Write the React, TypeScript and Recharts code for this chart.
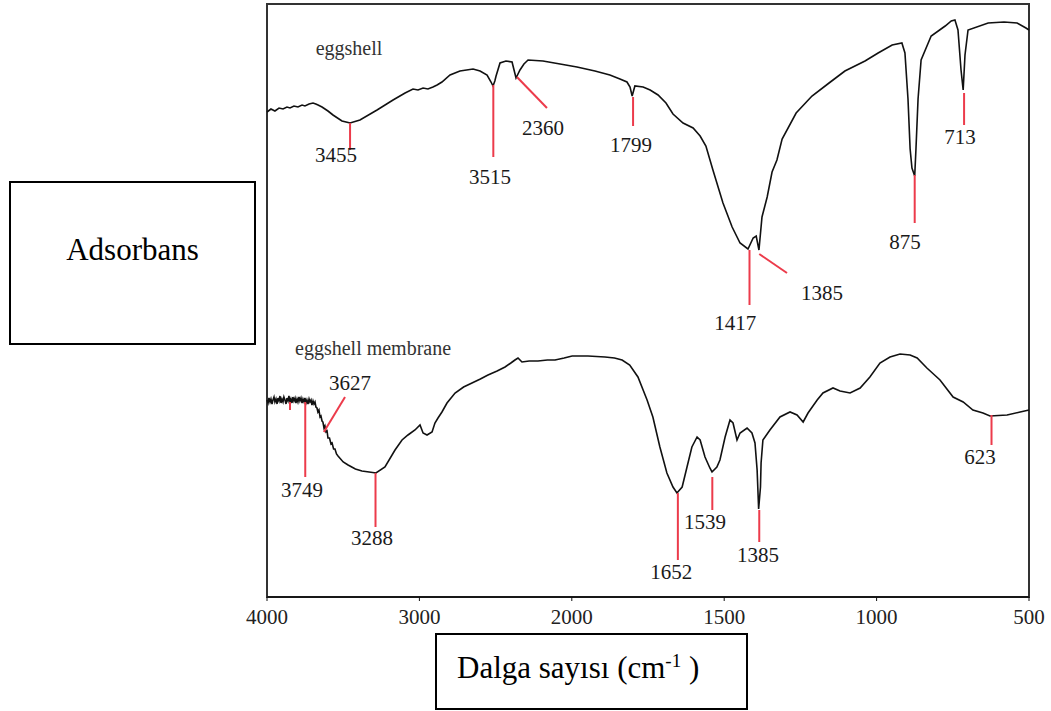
import React from 'react';
import { ComposedChart, Line, Scatter, XAxis, YAxis, ReferenceLine, ReferenceArea } from 'recharts';

const SERIF = "'Liberation Serif', 'Times New Roman', serif";

// FTIR spectra, [wavenumber cm-1, signal a.u.]
const eggshell: [number, number][] = [
  [4000, 485], [3974, 488], [3948, 486], [3921, 489], [3895, 488], [3869, 490], [3849, 489], [3823, 491],
  [3797, 490], [3770, 492], [3751, 491], [3724, 493], [3698, 494], [3680, 493], [3665, 492], [3639, 490],
  [3600, 486], [3567, 482], [3508, 476], [3455, 474], [3390, 477], [3278, 487], [3173, 497], [3094, 504],
  [3042, 508], [3009, 507], [2976, 509], [2944, 508], [2911, 510], [2884, 512], [2852, 515], [2799, 522],
  [2734, 526], [2648, 528], [2602, 526], [2556, 522], [2530, 515], [2517, 511], [2505, 516], [2497, 521],
  [2471, 534], [2432, 536], [2392, 535], [2379, 527], [2366, 519], [2340, 527], [2314, 533], [2287, 537],
  [2189, 536], [2077, 533], [1983, 530], [1924, 526], [1875, 522], [1842, 518], [1819, 515], [1809, 510],
  [1802, 501], [1793, 511], [1766, 510], [1743, 507], [1717, 502], [1691, 494], [1668, 483], [1635, 474],
  [1602, 469], [1579, 461], [1560, 451], [1537, 427], [1504, 394], [1474, 370], [1448, 354], [1422, 348],
  [1405, 359], [1395, 361], [1386, 347], [1376, 380], [1359, 400], [1343, 425], [1327, 437], [1310, 458],
  [1264, 484], [1212, 501], [1156, 514], [1104, 526], [1038, 536], [995, 544], [949, 552], [917, 554],
  [907, 544], [897, 498], [890, 448], [884, 429], [875, 421], [871, 447], [864, 498], [854, 537],
  [821, 561], [775, 571], [755, 576], [743, 577], [733, 567], [723, 527], [716, 507], [710, 542],
  [700, 567], [634, 574], [582, 575], [539, 574], [510, 569], [500, 567],
];

const membrane: [number, number][] = [
  [4000, 197], [3993, 194], [3987, 199], [3980, 195], [3974, 198], [3967, 193], [3961, 197], [3954, 200],
  [3948, 195], [3941, 198], [3934, 193], [3928, 199], [3921, 196], [3915, 201], [3908, 194], [3902, 198],
  [3895, 195], [3889, 200], [3882, 197], [3875, 193], [3869, 199], [3862, 196], [3856, 201], [3849, 195],
  [3843, 198], [3836, 194], [3830, 200], [3823, 196], [3816, 199], [3810, 194], [3803, 198], [3797, 195],
  [3790, 200], [3784, 196], [3777, 199], [3770, 194], [3764, 198], [3757, 195], [3751, 199], [3744, 194],
  [3738, 197], [3731, 193], [3724, 198], [3718, 195], [3711, 197], [3705, 192], [3698, 196], [3692, 193],
  [3685, 195], [3679, 190], [3672, 189], [3666, 185], [3659, 187], [3652, 180], [3646, 181], [3639, 176],
  [3633, 175], [3626, 169], [3620, 171], [3613, 165], [3606, 166], [3600, 159], [3590, 159], [3580, 153],
  [3573, 154], [3563, 148], [3554, 148], [3544, 143], [3534, 141], [3500, 135], [3468, 132], [3420, 128],
  [3377, 126], [3330, 125], [3285, 124], [3226, 130], [3160, 147], [3114, 157], [3075, 162], [3029, 167],
  [2996, 172], [2976, 164], [2950, 162], [2917, 165], [2898, 174], [2878, 179], [2852, 185], [2819, 194],
  [2766, 204], [2710, 210], [2655, 214], [2600, 218], [2550, 222], [2490, 226], [2438, 230], [2400, 234],
  [2373, 237], [2353, 239], [2327, 235], [2280, 236], [2222, 236], [2160, 237], [2110, 237], [2050, 239],
  [1999, 241], [1947, 241], [1891, 240], [1860, 239], [1835, 237], [1810, 232], [1783, 220], [1753, 197],
  [1734, 180], [1711, 150], [1688, 124], [1668, 110], [1655, 104], [1638, 110], [1622, 130], [1606, 150],
  [1589, 160], [1579, 157], [1563, 140], [1547, 129], [1540, 125], [1524, 130], [1514, 137], [1497, 160],
  [1481, 177], [1471, 174], [1458, 157], [1448, 164], [1425, 169], [1409, 164], [1399, 154], [1392, 127],
  [1387, 88], [1381, 110], [1379, 134], [1373, 157], [1350, 167], [1317, 180], [1284, 185], [1261, 182],
  [1241, 175], [1225, 184], [1195, 197], [1176, 204], [1143, 209], [1120, 206], [1087, 204], [1054, 209],
  [1022, 220], [989, 234], [956, 240], [923, 243], [890, 242], [867, 239], [835, 229], [792, 217],
  [749, 200], [716, 195], [684, 187], [651, 184], [628, 181], [572, 182], [529, 185], [500, 187],
];

// assigned bands
const eggshellPeaks = [3455, 2515, 2360, 1799, 1417, 1385, 875, 713];
const eggshellPeakText = ['3455', '3515', '2360', '1799', '1417', '1385', '875', '713'];
const membranePeaks = [3749, 3627, 3288, 1652, 1539, 1385, 623];
const membranePeakText = ['3749', '3627', '3288', '1652', '1539', '1385', '623'];

const wavenumberTicks = [4000, 3000, 2000, 1500, 1000, 500];

// callout geometry per band: tick from/to signal, optional slanted end, label centre
type Callout = { tick: [number, number]; end?: number; at: [number, number] };

const eggshellCallouts: Callout[] = [
  { tick: [474, 447], at: [3547, 442] },
  { tick: [512, 440], at: [2537, 420] },
  { tick: [520, 489], end: 2163, at: [2189, 469] },
  { tick: [500, 471], at: [1806, 452] },
  { tick: [347, 292], at: [1464, 274] },
  { tick: [343, 324], end: 1294, at: [1179, 304] },
  { tick: [422, 374], at: [907, 355] },
  { tick: [504, 472], at: [726, 460] },
];

const membraneCallouts: Callout[] = [
  { tick: [195, 120], at: [3770, 107] },
  { tick: [165, 200], end: 3488, at: [3455, 214] },
  { tick: [124, 70], at: [3311, 59] },
  { tick: [104, 37], at: [1674, 25] },
  { tick: [120, 87], at: [1563, 75] },
  { tick: [87, 55], at: [1389, 42] },
  { tick: [182, 152], at: [661, 140] },
];

// split axis: 4000-2000 at half the scale of 2000-500
const toAxis = (wn: number) => (wn >= 2000 ? (4000 - wn) / 2 : 3000 - wn);
const fromAxis = (u: number) => (u <= 1000 ? 4000 - 2 * u : 3000 - u);

const toPoints = (rows: [number, number][]) => rows.map(([wn, v]) => ({ u: toAxis(wn), v }));

const RED = '#ec3b4b';

const buildSegments = (peaks: number[], callouts: Callout[]) =>
  peaks.map((wn, i) => {
    const c = callouts[i];
    return [
      { x: toAxis(wn), y: c.tick[0] },
      { x: toAxis(c.end ?? wn), y: c.tick[1] },
    ];
  });

const buildNotes = (texts: string[], callouts: Callout[]) =>
  texts.map((text, i) => ({ u: toAxis(callouts[i].at[0]), v: callouts[i].at[1], text, size: 21, color: '#1a1a1a' }));

const segments = [
  ...buildSegments(eggshellPeaks, eggshellCallouts),
  ...buildSegments(membranePeaks, membraneCallouts),
  // stray mark near the membrane baseline
  [{ x: toAxis(3849), y: 195 }, { x: toAxis(3849), y: 187 }],
];

const notes = [
  ...buildNotes(eggshellPeakText, eggshellCallouts),
  ...buildNotes(membranePeakText, membraneCallouts),
  { u: toAxis(3462), v: 549, text: 'eggshell', size: 20, color: '#333' },
  { u: toAxis(3304), v: 249, text: 'eggshell membrane', size: 20, color: '#333' },
];

const renderNote = (p: any) => {
  const { cx, cy, payload } = p;
  return (
    <text x={cx} y={cy} textAnchor="middle" dominantBaseline="central" fontSize={payload.size} fill={payload.color} fontFamily={SERIF}>
      {payload.text}
    </text>
  );
};

export default function App() {
  return (
    <div style={{ position: 'absolute', left: 0, top: 0, width: 1051, height: 711, background: '#fff', fontFamily: SERIF }}>
      <ComposedChart width={1051} height={711} margin={{ top: 4, right: 22, bottom: 84, left: 267 }}>
        <XAxis
          type="number"
          dataKey="u"
          domain={[0, 2500]}
          ticks={wavenumberTicks.map(toAxis)}
          tickFormatter={(u: number) => String(fromAxis(u))}
          height={30}
          tickSize={4}
          tickMargin={8}
          axisLine={{ stroke: '#111', strokeWidth: 1.5 }}
          tickLine={{ stroke: '#111' }}
          tick={{ fontSize: 21, fill: '#222', fontFamily: SERIF }}
        />
        <YAxis type="number" dataKey="v" domain={[0, 593]} hide />
        <ReferenceArea x1={0} x2={2500} y1={0} y2={593} fill="none" stroke="#333" strokeWidth={2} fillOpacity={0} />
        <Line data={toPoints(eggshell)} dataKey="v" stroke="#111" strokeWidth={1.6} dot={false} isAnimationActive={false} />
        <Line data={toPoints(membrane)} dataKey="v" stroke="#111" strokeWidth={1.6} dot={false} isAnimationActive={false} />
        {segments.map((seg, i) => (
          <ReferenceLine key={i} segment={seg} stroke={RED} strokeWidth={2} />
        ))}
        <Scatter data={notes} dataKey="v" shape={renderNote} isAnimationActive={false} />
      </ComposedChart>

      <div
        style={{
          position: 'absolute', left: 9, top: 181, width: 247, height: 164,
          border: '2px solid #000', boxSizing: 'border-box', background: '#fff',
        }}
      >
        <div style={{ position: 'absolute', left: 0, right: 0, top: 49, textAlign: 'center', fontSize: 31, lineHeight: '36px' }}>
          Adsorbans
        </div>
      </div>

      <div
        style={{
          position: 'absolute', left: 435, top: 633, width: 313, height: 77,
          border: '2px solid #000', boxSizing: 'border-box', background: '#fff',
        }}
      >
        <div style={{ position: 'absolute', left: 20, top: 15, fontSize: 31, lineHeight: '36px', whiteSpace: 'nowrap' }}>
          Dalga sayısı (cm<sup style={{ fontSize: 19, lineHeight: 0, verticalAlign: 'super' }}>-1</sup> )
        </div>
      </div>
    </div>
  );
}
